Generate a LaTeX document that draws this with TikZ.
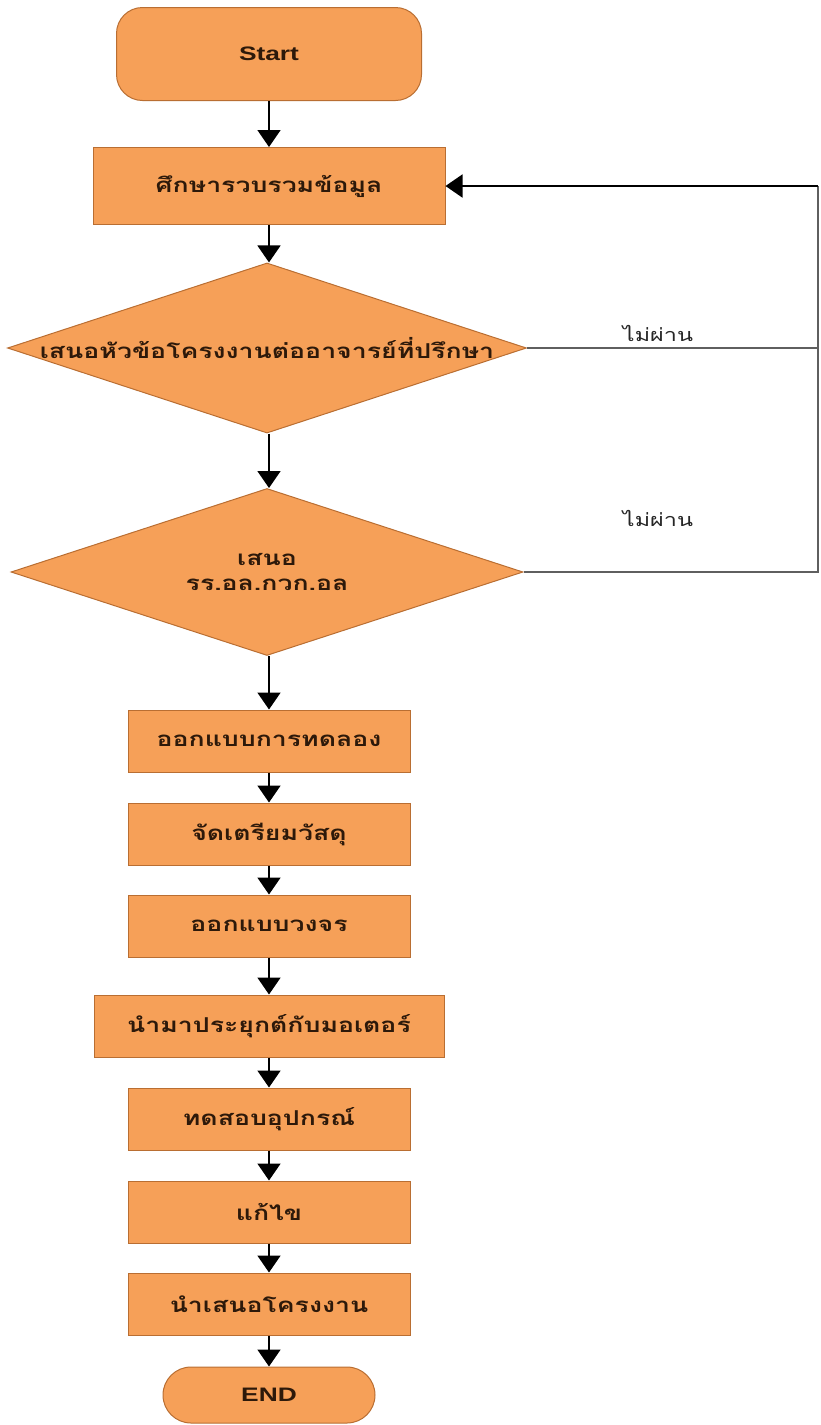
\documentclass[tikz,border=0pt]{standalone}
\usepackage{fontspec}
\setmainfont{Liberation Sans}
\newfontfamily\thai[Script=Thai,FakeStretch=1.3]{Loma}
\newfontfamily\latn[FakeStretch=1.35]{Liberation Sans}
\usetikzlibrary{arrows.meta,shapes.geometric}
\definecolor{boxfill}{RGB}{246,160,88}
\definecolor{boxline}{RGB}{185,110,50}
\definecolor{txt}{RGB}{45,25,10}
\definecolor{fbline}{RGB}{95,95,95}
\tikzset{
  base/.style={draw=boxline, fill=boxfill, line width=1pt, text=txt, inner sep=0pt, align=center},
  procbox/.style={base, rectangle, minimum width=282pt, minimum height=62pt, font=\thai\bfseries\fontsize{20.5}{25}\selectfont},
  termbox/.style={base, rectangle, rounded corners=26pt, font=\latn\bfseries\fontsize{19.5}{23}\selectfont},
  decbox/.style={base, diamond, aspect=3.05, minimum width=512pt, minimum height=169pt, font=\thai\bfseries\fontsize{20.5}{25}\selectfont},
  flow/.style={draw=black, line width=1.7pt, -{Triangle[width=23pt,length=17pt]}},
  back/.style={draw=fbline, line width=1.4pt},
  lbl/.style={font=\thai\fontsize{18}{22}\selectfont, text=black!85}
}
\begin{document}
\begin{tikzpicture}[x=1pt,y=-1pt]
\useasboundingbox (0,0) rectangle (820,1425);
\node[termbox, minimum width=305pt, minimum height=93pt] (start) at (269,54) {Start};
\node[procbox, minimum width=352pt, minimum height=77pt] (s1) at (269,186) {ศึกษารวบรวมข้อมูล};
\node[decbox] (d1) at (267,348) {เสนอหัวข้อโครงงานต่ออาจารย์ที่ปรึกษา};
\node[decbox, minimum height=167pt] (d2) at (267,572) {เสนอ\\รร.อล.กวก.อล};
\node[procbox] (p1) at (269,741) {ออกแบบการทดลอง};
\node[procbox] (p2) at (269,834) {จัดเตรียมวัสดุ};
\node[procbox] (p3) at (269,926) {ออกแบบวงจร};
\node[procbox, minimum width=350pt] (p4) at (269,1026) {นำมาประยุกต์กับมอเตอร์};
\node[procbox] (p5) at (269,1119) {ทดสอบอุปกรณ์};
\node[procbox] (p6) at (269,1212) {แก้ไข};
\node[procbox] (p7) at (269,1304) {นำเสนอโครงงาน};
\node[termbox, rounded corners=28pt, minimum width=212pt, minimum height=56pt] (end) at (269,1395) {END};
\coordinate (r1) at (818,348);
\coordinate (r2) at (818,572);
\coordinate (r0) at (818,186);
\path[flow] (start) -- (s1);
\path[flow] (s1) -- (s1 |- d1.north);
\path[flow] (d1.south -| s1) -- (d2.north -| s1);
\path[flow] (d2.south -| s1) -- (p1);
\path[flow] (p1) -- (p2);
\path[flow] (p2) -- (p3);
\path[flow] (p3) -- (p4);
\path[flow] (p4) -- (p5);
\path[flow] (p5) -- (p6);
\path[flow] (p6) -- (p7);
\path[flow] (p7) -- (end);
\path[back] (d1.east) -- (r1);
\path[back] (d2.east) -- (r2) -- (r0);
\path[flow] (r0) -- (s1.east);
\node[lbl] (l1) at (658,333) {ไม่ผ่าน};
\node[lbl] (l2) at (658,518) {ไม่ผ่าน};
\end{tikzpicture}
\end{document}
